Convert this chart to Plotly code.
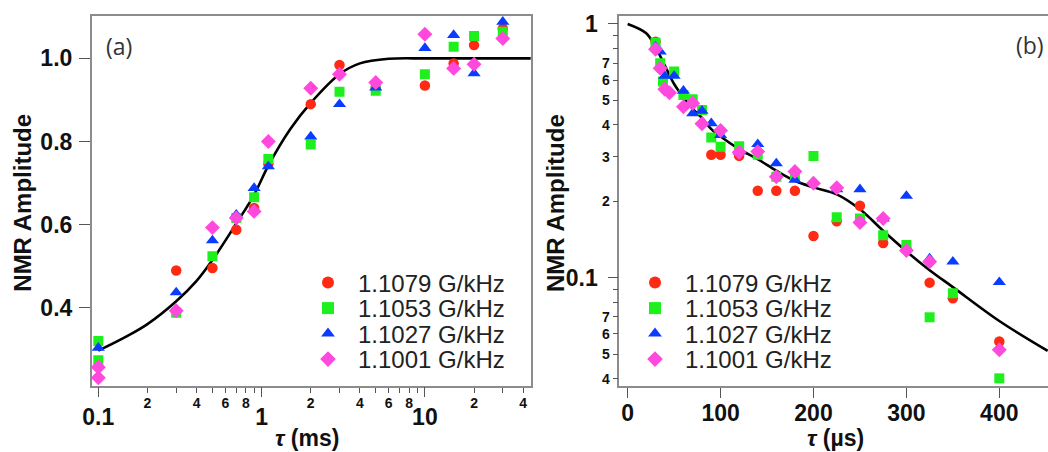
import plotly.graph_objects as go

# ---- panel (a): amplitude vs tau (ms), log x ----
A_X = [0.1, 0.3, 0.5, 0.7, 0.9, 1.1, 2, 3, 5, 10, 15, 20, 30]
A_RED_X = [0.3, 0.5, 0.7, 0.9, 1.1, 2, 3, 5, 10, 15, 20, 30]
A_RED = [0.490, 0.496, 0.588, 0.640, 0.746, 0.890, 0.984, 0.930, 0.935, 0.988, 1.032, 1.072]
A_GREEN_X = [0.1, 0.1, 0.3, 0.5, 0.7, 0.9, 1.1, 2, 3, 5, 10, 15, 20, 30]
A_GREEN = [0.320, 0.274, 0.388, 0.524, 0.616, 0.666, 0.758, 0.793, 0.920, 0.922, 0.962, 1.028, 1.054, 1.064]
A_BLUE = [0.304, 0.437, 0.562, 0.624, 0.688, 0.740, 0.812, 0.890, 0.930, 1.025, 1.056, 0.964, 1.088]
A_PINK_X = [0.1, 0.1, 0.3, 0.5, 0.7, 0.9, 1.1, 2, 3, 5, 10, 15, 20, 30]
A_PINK = [0.257, 0.232, 0.393, 0.593, 0.616, 0.632, 0.800, 0.928, 0.962, 0.942, 1.058, 0.976, 0.986, 1.048]
A_FIT_X = [0.1, 0.15, 0.2, 0.3, 0.4, 0.5, 0.7, 0.9, 1.1, 1.5, 2, 3, 4, 6, 10, 20, 45]
A_FIT_Y = [0.297, 0.332, 0.361, 0.416, 0.465, 0.515, 0.603, 0.672, 0.742, 0.830, 0.893, 0.962, 0.988, 0.999,
           1.0, 1.0, 1.0]

# ---- panel (b): amplitude vs tau (us), log y ----
B_RED_X = [30, 90, 100, 120, 140, 160, 180, 200, 225, 250, 275, 300, 325, 350, 400]
B_RED = [0.852, 0.305, 0.305, 0.302, 0.220, 0.220, 0.220, 0.146, 0.167, 0.192, 0.137, 0.130, 0.0956, 0.083, 0.056]
B_GREEN_X = [30, 35, 38, 50, 60, 70, 80, 90, 100, 120, 140, 160, 180, 200, 225, 250, 275, 300, 325, 350, 400]
B_GREEN = [0.844, 0.700, 0.593, 0.649, 0.525, 0.505, 0.458, 0.357, 0.328, 0.330, 0.305, 0.250, 0.250, 0.302,
           0.173, 0.171, 0.147, 0.1345, 0.0698, 0.0868, 0.0401]
B_BLUE_X = [30, 35, 40, 50, 60, 70, 80, 90, 100, 120, 140, 160, 180, 225, 250, 275, 300, 325, 350, 400]
B_BLUE = [0.814, 0.778, 0.624, 0.624, 0.545, 0.444, 0.455, 0.406, 0.365, 0.314, 0.336, 0.282, 0.243,
          0.223, 0.223, 0.171, 0.210, 0.119, 0.1156, 0.096]
B_PINK_X = [30, 35, 40, 45, 60, 70, 80, 100, 120, 140, 160, 180, 200, 225, 250, 275, 300, 325, 400]
B_PINK = [0.795, 0.669, 0.553, 0.536, 0.472, 0.487, 0.404, 0.380, 0.312, 0.314, 0.250, 0.262, 0.2355,
          0.226, 0.165, 0.171, 0.128, 0.1156, 0.052]
B_FIT_X = [0, 20, 30, 40, 50, 60, 70, 80, 90, 100, 120, 140, 160, 180, 200, 225, 250, 275, 300, 325, 350, 400, 452]
B_FIT_Y = [1.0, 0.919, 0.810, 0.686, 0.580, 0.514, 0.463, 0.426, 0.385, 0.360, 0.321, 0.293, 0.264, 0.241,
           0.227, 0.213, 0.186, 0.153, 0.127, 0.107, 0.0918, 0.0675, 0.0515]

SERIES = ["1.1079 G/kHz", "1.1053 G/kHz", "1.1027 G/kHz", "1.1001 G/kHz"]
COLORS = ["#ff2a14", "#1ef01e", "#0a3cff", "#ff48dc"]
SYMBOLS = ["circle", "square", "triangle-up", "diamond"]
SIZES = [10.5, 10, 11.5, 11.5]

A_MAJOR = [0.1, 1, 10]
A_MINOR = [0.2, 0.3, 0.4, 0.5, 0.6, 0.7, 0.8, 0.9, 2, 3, 4, 5, 6, 7, 8, 9, 20, 30, 40]
A_MINOR_TEXT = ["2", "", "4", "", "6", "", "8", "", "2", "", "4", "", "6", "", "8", "", "2", "", "4"]
A_YTICKS = [0.4, 0.6, 0.8, 1.0]
B_XTICKS = [0, 100, 200, 300, 400]
B_MAJOR = [0.1, 1]
B_MINOR = [0.04, 0.05, 0.06, 0.07, 0.08, 0.09, 0.2, 0.3, 0.4, 0.5, 0.6, 0.7, 0.8, 0.9]
B_MINOR_TEXT = ["4", "5", "6", "7", "", "", "2", "3", "4", "5", "6", "7", "", ""]

W, H = 1048, 452
FONT = "Liberation Sans"
FRAME = "#8c8c8c"
TICK = "#555555"


def bold(vals, fmt="{}"):
    return [f"<b>{fmt.format(v)}</b>" if str(v) != "" else "" for v in vals]


fig = go.Figure()

a_sets = [(A_RED_X, A_RED), (A_GREEN_X, A_GREEN), (A_X, A_BLUE), (A_PINK_X, A_PINK)]
b_sets = [(B_RED_X, B_RED), (B_GREEN_X, B_GREEN), (B_BLUE_X, B_BLUE), (B_PINK_X, B_PINK)]

fig.add_trace(go.Scatter(x=A_FIT_X, y=A_FIT_Y, mode="lines", line=dict(color="black", width=2.6, shape="spline"),
                         showlegend=False, xaxis="x", yaxis="y"))
fig.add_trace(go.Scatter(x=B_FIT_X, y=B_FIT_Y, mode="lines", line=dict(color="black", width=2.6, shape="spline"),
                         showlegend=False, xaxis="x2", yaxis="y2"))
# empty traces so the overlay axes (major ticks) get drawn
fig.add_trace(go.Scatter(x=[None], y=[None], showlegend=False, hoverinfo="skip", xaxis="x3", yaxis="y"))
fig.add_trace(go.Scatter(x=[None], y=[None], showlegend=False, hoverinfo="skip", xaxis="x2", yaxis="y4"))

for i, ((ax, ay), (bx, by)) in enumerate(zip(a_sets, b_sets)):
    mk = dict(color=COLORS[i], symbol=SYMBOLS[i], size=SIZES[i], line=dict(width=0))
    fig.add_trace(go.Scatter(x=ax, y=ay, mode="markers", marker=mk, name=SERIES[i],
                             legend="legend" if i == 0 else f"legend{i + 1}", xaxis="x", yaxis="y"))
    fig.add_trace(go.Scatter(x=bx, y=by, mode="markers", marker=mk, name=SERIES[i],
                             legend=f"legend{i + 5}", xaxis="x2", yaxis="y2"))

# plot frames in pixels
A_L, A_R, TOP, BOT = 91.7, 530.7, 16, 386
B_L = 619.3
dom_y = [1 - BOT / H, 1 - TOP / H]
a_xrange = [-1.0404, 1.648]
a_yrange = [0.212, 1.102]
b_xrange = [-9.0, 452.4]
b_yrange = [-1.427, 0.0315]

big = dict(family=FONT, size=23, color="#111")
small = dict(family=FONT, size=14, color="#111")
common = dict(showgrid=False, zeroline=False, ticks="outside", tickcolor=TICK, tickwidth=1.3)

fig.update_layout(
    width=W, height=H, margin=dict(l=0, r=0, t=0, b=0, autoexpand=False),
    plot_bgcolor="white", paper_bgcolor="white",
    xaxis=dict(domain=[A_L / W, A_R / W], type="log", range=a_xrange, anchor="y",
               tickvals=A_MINOR, ticktext=bold(A_MINOR_TEXT), ticklen=5, tickfont=small,
               ticklabelstandoff=-2,
               showline=True, linecolor=FRAME, linewidth=1.5, mirror=True, **common),
    xaxis3=dict(overlaying="x", type="log", range=a_xrange, anchor="y", side="bottom",
                tickvals=A_MAJOR, ticktext=bold(A_MAJOR), ticklen=10, tickfont=big,
                ticklabelstandoff=0, showline=False, **common),
    yaxis=dict(domain=dom_y, range=a_yrange, anchor="x",
               tickvals=A_YTICKS, ticktext=bold(A_YTICKS, "{:.1f}"), ticklen=11, tickfont=big,
               ticklabelstandoff=2,
               showline=True, linecolor=FRAME, linewidth=1.5, mirror=True, **common),
    xaxis2=dict(domain=[B_L / W, 1.0], range=b_xrange, anchor="y2",
                tickvals=B_XTICKS, ticktext=bold(B_XTICKS), ticklen=10, tickfont=big,
                ticklabelstandoff=-4,
                showline=True, linecolor=FRAME, linewidth=1.5, mirror=True, **common),
    yaxis2=dict(domain=dom_y, type="log", range=b_yrange, anchor="x2",
                tickvals=B_MINOR, ticktext=bold(B_MINOR_TEXT), ticklen=5, tickfont=small,
                showline=True, linecolor=FRAME, linewidth=1.5, mirror=False, **common),
    yaxis4=dict(overlaying="y2", type="log", range=b_yrange, anchor="x2", side="left",
                tickvals=B_MAJOR, ticktext=bold(B_MAJOR), ticklen=10, tickfont=big,
                ticklabelstandoff=6, showline=False, **common),
)

# one legend per entry so the rows can sit exactly where the reference has them
ROWS = [283, 308.5, 334, 359.5]
leg_font = dict(family=FONT, size=24, color="#222")
for i in range(8):
    key = "legend" if i == 0 else f"legend{i + 1}"
    cx = 329 if i < 4 else 656
    fig.layout[key] = dict(x=(cx - 31) / W, y=1 - ROWS[i % 4] / H, xanchor="left", yanchor="middle",
                           bgcolor="rgba(0,0,0,0)", font=leg_font, itemsizing="constant",
                           itemwidth=50, borderwidth=0)

ann = dict(showarrow=False, xref="paper", yref="paper", xanchor="center", yanchor="middle")
ytitle_font = dict(family=FONT, size=24, color="#111")
xtitle_font = dict(family=FONT, size=23, color="#111")
fig.add_annotation(text="<b>NMR Amplitude</b>", x=21.7 / W, y=1 - 203 / H, textangle=-90, font=ytitle_font, **ann)
fig.add_annotation(text="<b>NMR Amplitude</b>", x=555 / W, y=1 - 203 / H, textangle=-90, font=ytitle_font, **ann)
fig.add_annotation(text="<b><i>τ</i> (ms)</b>", x=307 / W, y=1 - 438 / H, font=xtitle_font, **ann)
fig.add_annotation(text="<b><i>τ</i> (µs)</b>", x=835 / W, y=1 - 438 / H, font=xtitle_font, **ann)
fig.add_annotation(text="(a)", x=119 / W, y=1 - 46 / H, font=dict(family="Open Sans", size=23, color="#333"), **ann)
fig.add_annotation(text="(b)", x=1030 / W, y=1 - 45 / H, font=dict(family="Open Sans", size=23, color="#333"), **ann)

# the page's default body margin would shift the whole figure by 8px
fig.write_html("out.html", config={"displayModeBar": False},
               post_script="document.body.style.margin='0';document.body.style.overflow='hidden';")
